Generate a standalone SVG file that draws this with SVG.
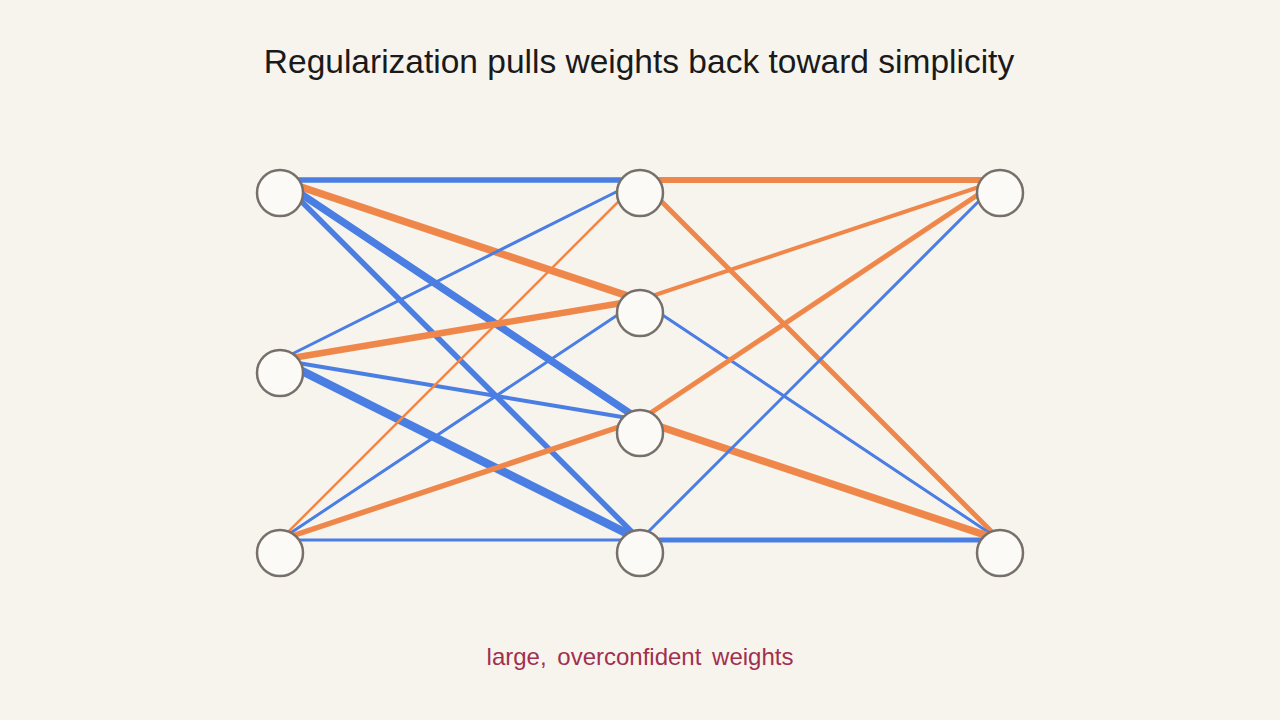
<svg xmlns="http://www.w3.org/2000/svg" width="1280" height="720" viewBox="0 0 1280 720">
<style>
.b{stroke:#4a7ee3;stroke-linecap:round}
.o{stroke:#f0874a;stroke-linecap:round}
.n{fill:#fcfaf6;stroke:#77706a;stroke-width:2.5}
text{font-family:"Liberation Sans",Arial,sans-serif}
</style>
<rect width="1280" height="720" fill="#f7f4ee"/>
<text x="639" y="73" text-anchor="middle" font-size="33.5" fill="#1a1a1a">Regularization pulls weights back toward simplicity</text>
<g id="connectors">
<line class="b" x1="280" y1="180" x2="640" y2="180" stroke-width="5.5"/>
<line class="o" x1="280" y1="180" x2="640" y2="300" stroke-width="7.5"/>
<line class="b" x1="280" y1="180" x2="640" y2="420" stroke-width="7.5"/>
<line class="b" x1="280" y1="180" x2="640" y2="540" stroke-width="5.5"/>
<line class="b" x1="280" y1="360" x2="640" y2="180" stroke-width="3"/>
<line class="o" x1="280" y1="360" x2="640" y2="300" stroke-width="6.5"/>
<line class="b" x1="280" y1="360" x2="640" y2="420" stroke-width="4"/>
<line class="b" x1="280" y1="360" x2="640" y2="540" stroke-width="8.5"/>
<line class="o" x1="280" y1="540" x2="640" y2="180" stroke-width="2.5"/>
<line class="b" x1="280" y1="540" x2="640" y2="300" stroke-width="3"/>
<line class="o" x1="280" y1="540" x2="640" y2="420" stroke-width="5.5"/>
<line class="b" x1="280" y1="540" x2="640" y2="540" stroke-width="3"/>
<line class="o" x1="640" y1="180" x2="1000" y2="180" stroke-width="6"/>
<line class="o" x1="640" y1="180" x2="1000" y2="540" stroke-width="5"/>
<line class="o" x1="640" y1="300" x2="1000" y2="180" stroke-width="4"/>
<line class="b" x1="640" y1="300" x2="1000" y2="540" stroke-width="3"/>
<line class="o" x1="640" y1="420" x2="1000" y2="180" stroke-width="5"/>
<line class="o" x1="640" y1="420" x2="1000" y2="540" stroke-width="7.5"/>
<line class="b" x1="640" y1="540" x2="1000" y2="180" stroke-width="3"/>
<line class="b" x1="640" y1="540" x2="1000" y2="540" stroke-width="5"/>
</g>
<g id="L0"><circle class="n" cx="280" cy="193" r="23"/></g>
<g id="L1"><circle class="n" cx="280" cy="373" r="23"/></g>
<g id="L2"><circle class="n" cx="280" cy="553" r="23"/></g>
<g id="M0"><circle class="n" cx="640" cy="193" r="23"/></g>
<g id="M1"><circle class="n" cx="640" cy="313" r="23"/></g>
<g id="M2"><circle class="n" cx="640" cy="433" r="23"/></g>
<g id="M3"><circle class="n" cx="640" cy="553" r="23"/></g>
<g id="R0"><circle class="n" cx="1000" cy="193" r="23"/></g>
<g id="R1"><circle class="n" cx="1000" cy="553" r="23"/></g>
<text x="640" y="665" text-anchor="middle" font-size="24" fill="#a1304f" word-spacing="4">large, overconfident weights</text>
</svg>
